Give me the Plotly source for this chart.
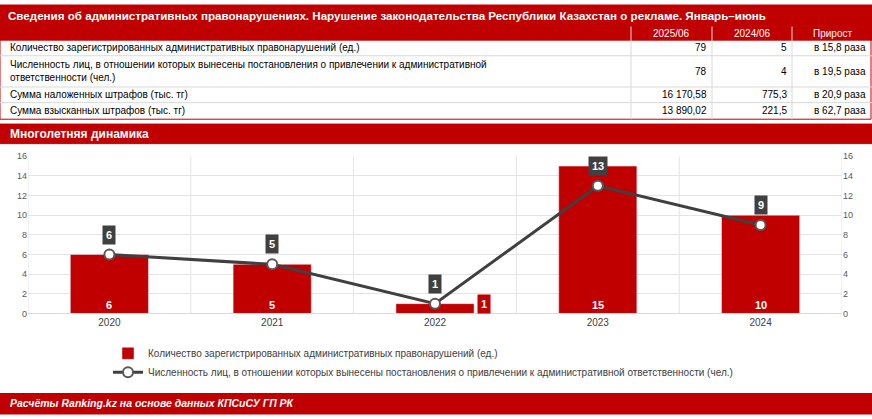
import plotly.graph_objects as go

years = ["2020", "2021", "2022", "2023", "2024"]
cases = [6, 5, 1, 15, 10]
persons = [6, 5, 1, 13, 9]

tbl_head = ["2025/06", "2024/06", "Прирост"]
tbl_rows = [
    "Количество зарегистрированных административных правонарушений (ед.)",
    "Численность лиц, в отношении которых вынесены постановления о привлечении к административной<br>ответственности (чел.)",
    "Сумма наложенных штрафов (тыс. тг)",
    "Сумма взысканных штрафов (тыс. тг)",
]
tbl_v1 = ["79", "78", "16 170,58", "13 890,02"]
tbl_v2 = ["5", "4", "775,3", "221,5"]
tbl_v3 = ["в 15,8 раза", "в 19,5 раза", "в 20,9 раза", "в 62,7 раза"]

W, H = 872, 419
RED = "#C00000"
FONT = "Liberation Sans Narrow, Arial Narrow, Liberation Sans, sans-serif"

def py(p):
    return 1 - p / H
def px(p):
    return p / W

fig = go.Figure()
fig.add_bar(x=years, y=cases, marker_color=RED, width=0.48,
            name="Количество зарегистрированных административных правонарушений (ед.)")
fig.add_scatter(x=years, y=persons, mode="lines+markers", yaxis="y2",
                line=dict(color="#404040", width=3),
                marker=dict(size=10, color="white", line=dict(color="#595959", width=2)),
                name="Численность лиц, в отношении которых вынесены постановления о привлечении к административной ответственности (чел.)")

shapes = []
ann = []
def rect(x0, y0, x1, y1, fill, line=None):
    shapes.append(dict(type="rect", xref="paper", yref="paper", x0=px(x0), x1=px(x1), y0=py(y0), y1=py(y1),
                       fillcolor=fill, line=dict(color=line or fill, width=1), layer="below"))
def text(x, y, t, color="black", size=10, anchor="left", bold=False, bg=None):
    if bold:
        t = "<b>" + t + "</b>"
    ann.append(dict(xref="paper", yref="paper", x=px(x), y=py(y), text=t, showarrow=False,
                    xanchor=anchor, yanchor="middle", align=anchor if anchor != "center" else "center",
                    font=dict(color=color, size=size, family=FONT), bgcolor=bg))

rect(0, 0, W, 21, RED)
text(6, 11, "Сведения об административных правонарушениях. Нарушение законодательства Республики Казахстан о рекламе. Январь–июнь", "white", 11.6, bold=True)
rect(0, 22, W, 36, RED)
rect(0, 36, W - 1, 117, "white", RED)
cols = [631, 712, 792]
for i, h in enumerate(tbl_head):
    text([671, 752, 832][i], 29, h, "white", 10, "center")
for c in cols:
    shapes.append(dict(type="line", xref="paper", yref="paper", x0=px(c), x1=px(c), y0=py(22), y1=py(117),
                       line=dict(color="#D9D9D9", width=1)))
bounds = [36, 52, 84, 100, 117]
for i in range(4):
    yc = (bounds[i] + bounds[i + 1]) / 2
    text(8, yc, tbl_rows[i], "black", 10)
    text(cols[1] - 3, yc, tbl_v1[i], "black", 10, "right")
    text(cols[2] - 3, yc, tbl_v2[i], "black", 10, "right")
    text(W - 4, yc, tbl_v3[i], "black", 10, "right")
    if i > 0:
        shapes.append(dict(type="line", xref="paper", yref="paper", x0=0, x1=1, y0=py(bounds[i]), y1=py(bounds[i]),
                           line=dict(color="#D9D9D9", width=1)))
rect(0, 122, W, 142, RED)
text(8, 132, "Многолетняя динамика", "white", 12, bold=True)
rect(0, 398, W, H, RED)
text(8, 408, "<i>Расчёты Ranking.kz на основе данных КПСиСУ ГП РК</i>", "white", 10.5, bold=True)

for k in range(6):
    shapes.append(dict(type="line", xref="x", yref="y", x0=k - 0.5, x1=k - 0.5, y0=0, y1=16,
                       line=dict(color="#E4E4E4", width=1), layer="below"))

for i, v in enumerate(cases):
    if v >= 3:
        ann.append(dict(x=i, y=0.9, xref="x", yref="y", text=f"<b>{v}</b>", showarrow=False,
                        font=dict(color="white", size=11, family=FONT)))
    else:
        ann.append(dict(x=i + 0.3, y=v, xref="x", yref="y", text=f"<b>{v}</b>", showarrow=False,
                        bgcolor=RED, borderpad=3, font=dict(color="white", size=11, family=FONT)))
for i, v in enumerate(persons):
    ann.append(dict(x=i, y=v, xref="x", yref="y2", text=f"<b>{v}</b>", showarrow=False, yshift=20,
                    bgcolor="#404040", borderpad=3, font=dict(color="white", size=11, family=FONT)))

dom_y = [py(316), py(155)]
fig.update_layout(
    width=W, height=H, margin=dict(l=0, r=0, t=0, b=0),
    paper_bgcolor="white", plot_bgcolor="white",
    font=dict(family=FONT, size=10, color="#404040"),
    shapes=shapes, annotations=ann,
    xaxis=dict(type="category", domain=[px(28), px(842)], range=[-0.5, 4.5], showgrid=False, ticks="",
               tickfont=dict(size=10, color="#404040"), showline=True, linecolor="#D9D9D9"),
    yaxis=dict(domain=dom_y, range=[0, 16], dtick=2, gridcolor="#E4E4E4", zeroline=False,
               tickfont=dict(size=9, color="#595959")),
    yaxis2=dict(overlaying="y", side="right", range=[0, 16], dtick=2, showgrid=False, zeroline=False,
                tickfont=dict(size=9, color="#595959")),
    legend=dict(x=px(108), y=py(342), xanchor="left", yanchor="top", orientation="v",
                font=dict(size=10, color="#404040"), tracegroupgap=12, bgcolor="rgba(0,0,0,0)"),
)
fig.write_html("out.html", config={"displayModeBar": False},
               post_script="document.body.style.margin='0';document.body.style.overflow='hidden';")
